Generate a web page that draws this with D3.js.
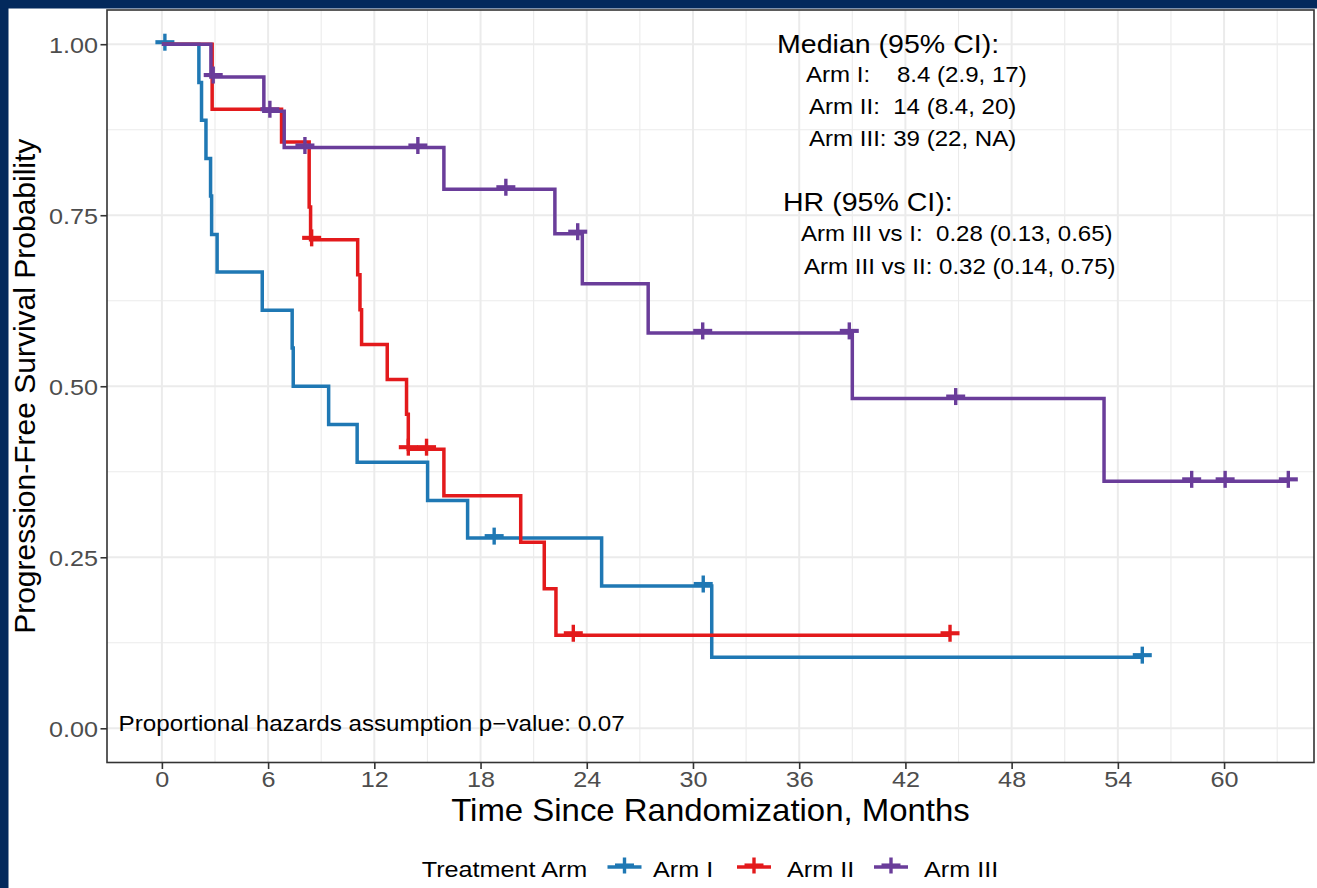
<!DOCTYPE html>
<html>
<head>
<meta charset="utf-8">
<script src="https://cdn.jsdelivr.net/npm/d3@7"></script>
<style>
  body { margin: 0; background: #ffffff; }
  svg { display: block; font-family: "Liberation Sans", Arial, sans-serif; }
</style>
</head>
<body>
<svg id="chart" width="1317" height="888"></svg>
<script>
// ---------------- data ----------------
const armNames = ["Arm I", "Arm II", "Arm III"];

// Kaplan-Meier steps (time in months, survival after the step)
const armI_time  = [0, 2.09, 2.24, 2.49, 2.75, 2.81, 3.12, 5.67, 7.36, 7.42, 9.42, 11.03, 15.01, 17.27, 24.84, 31.06];
const armI_surv  = [1, 0.944, 0.889, 0.833, 0.778, 0.722, 0.667, 0.611, 0.556, 0.500, 0.444, 0.389, 0.333, 0.278, 0.208, 0.104];
const armI_censor = [0.17, 18.77, 30.58, 55.38];

const armII_time = [0, 2.84, 6.76, 8.32, 8.40, 11.06, 11.19, 11.28, 12.73, 13.82, 13.92, 15.93, 20.27, 21.60, 22.26];
const armII_surv = [1, 0.905, 0.857, 0.762, 0.714, 0.663, 0.612, 0.561, 0.510, 0.459, 0.408, 0.340, 0.272, 0.204, 0.136];
const armII_censor = [8.46, 13.92, 14.95, 23.24, 44.52];

const armIII_time = [0, 2.77, 5.76, 6.91, 15.93, 22.20, 23.75, 27.47, 39.00, 53.22];
const armIII_surv = [1, 0.952, 0.902, 0.849, 0.788, 0.723, 0.650, 0.578, 0.482, 0.361];
const armIII_censor = [2.90, 6.10, 8.08, 14.46, 19.43, 23.49, 30.55, 38.83, 44.84, 58.17, 60.06, 63.63];

const xTicks = [0, 6, 12, 18, 24, 30, 36, 42, 48, 54, 60];
const yTicks = [0, 0.25, 0.5, 0.75, 1.0];
const yTickLabels = ["0.00", "0.25", "0.50", "0.75", "1.00"];

const xTitle = "Time Since Randomization, Months";
const yTitle = "Progression-Free Survival Probability";
const legendTitle = "Treatment Arm";
const medianHeader = "Median (95% CI):";
const medianLines = ["Arm I:    8.4 (2.9, 17)", "Arm II:  14 (8.4, 20)", "Arm III: 39 (22, NA)"];
const hrHeader = "HR (95% CI):";
const hrLines = ["Arm III vs I:  0.28 (0.13, 0.65)", "Arm III vs II: 0.32 (0.14, 0.75)"];
const phNote = "Proportional hazards assumption p\u2212value: 0.07";

// ---------------- styling / layout ----------------
const armColors = ["#1F78B4", "#E31A1C", "#6A3D9A"];
const NAVY = "#03295C";
const GRID = "#EBEBEB";
const W = 1317, H = 888;
const P = { left: 107, right: 1314, top: 10, bottom: 762.5 };
const SX = 1.12; // horizontal text stretch of the source image

const svg = d3.select("#chart");

const x = d3.scaleLinear().domain([-3.1, 65.08]).range([P.left, P.right]);
const y = d3.scaleLinear().domain([-0.05, 1.05]).range([P.bottom, P.top]);

// background + navy frame
svg.append("rect").attr("width", W).attr("height", H).attr("fill", "#ffffff");
svg.append("rect").attr("x", 0).attr("y", 0).attr("width", 8.5).attr("height", H).attr("fill", NAVY);
svg.append("rect").attr("x", 0).attr("y", 0).attr("width", W).attr("height", 8.5).attr("fill", NAVY);

function txt(parent, str, x0, y0, size, opts = {}) {
  const sx = opts.sx === undefined ? SX : opts.sx;
  return parent.append("text")
    .attr("transform", `translate(${x0},${y0}) scale(${sx},1)`)
    .attr("font-size", size)
    .attr("fill", opts.fill || "#000000")
    .attr("text-anchor", opts.anchor || "start")
    .attr("xml:space", "preserve")
    .style("white-space", "pre")
    .text(str);
}

// grid
const grid = svg.append("g");
const xMinor = d3.range(3, 65, 6);
const yMinor = [0.125, 0.375, 0.625, 0.875];
grid.selectAll("line.xmin").data(xMinor).join("line")
  .attr("x1", d => x(d)).attr("x2", d => x(d)).attr("y1", P.top).attr("y2", P.bottom)
  .attr("stroke", GRID).attr("stroke-width", 1.1);
grid.selectAll("line.ymin").data(yMinor).join("line")
  .attr("x1", P.left).attr("x2", P.right).attr("y1", d => y(d)).attr("y2", d => y(d))
  .attr("stroke", GRID).attr("stroke-width", 1.1);
grid.selectAll("line.xmaj").data(xTicks).join("line")
  .attr("x1", d => x(d)).attr("x2", d => x(d)).attr("y1", P.top).attr("y2", P.bottom)
  .attr("stroke", GRID).attr("stroke-width", 2);
grid.selectAll("line.ymaj").data(yTicks).join("line")
  .attr("x1", P.left).attr("x2", P.right).attr("y1", d => y(d)).attr("y2", d => y(d))
  .attr("stroke", GRID).attr("stroke-width", 2);

// curves
const arms = [
  { time: armI_time, surv: armI_surv, cens: armI_censor, color: armColors[0] },
  { time: armII_time, surv: armII_surv, cens: armII_censor, color: armColors[1] },
  { time: armIII_time, surv: armIII_surv, cens: armIII_censor, color: armColors[2] }
];
const plot = svg.append("g");
const stepLine = d3.line().x(d => x(d[0])).y(d => y(d[1])).curve(d3.curveStepAfter);

function drawPlus(g, cx, cy, color, hw, hh, sw) {
  g.append("line").attr("x1", cx - hw).attr("x2", cx + hw).attr("y1", cy).attr("y2", cy)
    .attr("stroke", color).attr("stroke-width", sw + 0.7);
  g.append("line").attr("x1", cx).attr("x2", cx).attr("y1", cy - hh).attr("y2", cy + hh)
    .attr("stroke", color).attr("stroke-width", sw);
}

arms.forEach(a => {
  const pts = a.time.map((t, i) => [t, a.surv[i]]);
  const end = Math.max(d3.max(a.time), d3.max(a.cens));
  pts.push([end, a.surv[a.surv.length - 1]]);
  plot.append("path").attr("d", stepLine(pts))
    .attr("fill", "none").attr("stroke", a.color).attr("stroke-width", 3.5)
    .attr("stroke-linejoin", "miter");
  const survAt = t => { let s = 1; a.time.forEach((tt, i) => { if (tt <= t) s = a.surv[i]; }); return s; };
  a.cens.forEach(t => drawPlus(plot, x(t), y(survAt(t)) - 2, a.color, 9.5, 8.5, 3.4));
});

// panel border
svg.append("rect").attr("x", P.left).attr("y", P.top)
  .attr("width", P.right - P.left).attr("height", P.bottom - P.top)
  .attr("fill", "none").attr("stroke", "#333333").attr("stroke-width", 1.6);

// axes
const xAxis = svg.append("g").attr("transform", `translate(0,${P.bottom})`)
  .call(d3.axisBottom(x).tickValues(xTicks).tickSize(6.5).tickFormat(d3.format("d")));
xAxis.select(".domain").remove();
xAxis.selectAll(".tick line").attr("stroke", "#333333").attr("stroke-width", 1.6);
xAxis.selectAll(".tick text")
  .attr("y", null).attr("dy", null)
  .attr("transform", `translate(0,24.5) scale(1.12,1)`)
  .attr("font-size", 22.5).attr("fill", "#4D4D4D")
  .attr("font-family", "Liberation Sans, Arial, sans-serif");

const yAxis = svg.append("g").attr("transform", `translate(${P.left},0)`)
  .call(d3.axisLeft(y).tickValues(yTicks).tickSize(6.5).tickFormat((d, i) => yTickLabels[i]));
yAxis.select(".domain").remove();
yAxis.selectAll(".tick line").attr("stroke", "#333333").attr("stroke-width", 1.6);
yAxis.selectAll(".tick text")
  .attr("x", null).attr("dy", null)
  .attr("transform", `translate(-9,8) scale(1.12,1)`)
  .attr("font-size", 22.5).attr("fill", "#4D4D4D")
  .attr("font-family", "Liberation Sans, Arial, sans-serif");

// axis titles
txt(svg, xTitle, (P.left + P.right) / 2, 820.5, 30.5, { anchor: "middle", sx: 1.08 });
svg.append("text")
  .attr("transform", `translate(35,${(P.top + P.bottom) / 2}) rotate(-90)`)
  .attr("text-anchor", "middle").attr("font-size", 30).attr("fill", "#000")
  .text(yTitle);

// annotations
txt(svg, medianHeader, 777, 53.3, 25.5);
const medianX = [806, 809, 809];
const medianY = [82, 114.3, 146];
medianLines.forEach((s, i) => txt(svg, s, medianX[i], medianY[i], 21.5));
txt(svg, hrHeader, 783, 211, 25.5);
const hrX = [801, 804];
const hrY = [241, 274];
hrLines.forEach((s, i) => txt(svg, s, hrX[i], hrY[i], 21.5));
txt(svg, phNote, 118.6, 730.7, 22, { sx: 1.1 });

// legend
const legY = 867;
txt(svg, legendTitle, 421.7, 876.5, 22.5);
const keyCX = [624.5, 754, 891];
const labX = [653, 787, 924];
armNames.forEach((n, i) => {
  svg.append("line").attr("x1", keyCX[i] - 17).attr("x2", keyCX[i] + 17)
    .attr("y1", legY).attr("y2", legY).attr("stroke", armColors[i]).attr("stroke-width", 3.5);
  drawPlus(svg, keyCX[i], legY - 1.5, armColors[i], 9.5, 8, 3.4);
  txt(svg, n, labX[i], 876.5, 22.5);
});
</script>
</body>
</html>
